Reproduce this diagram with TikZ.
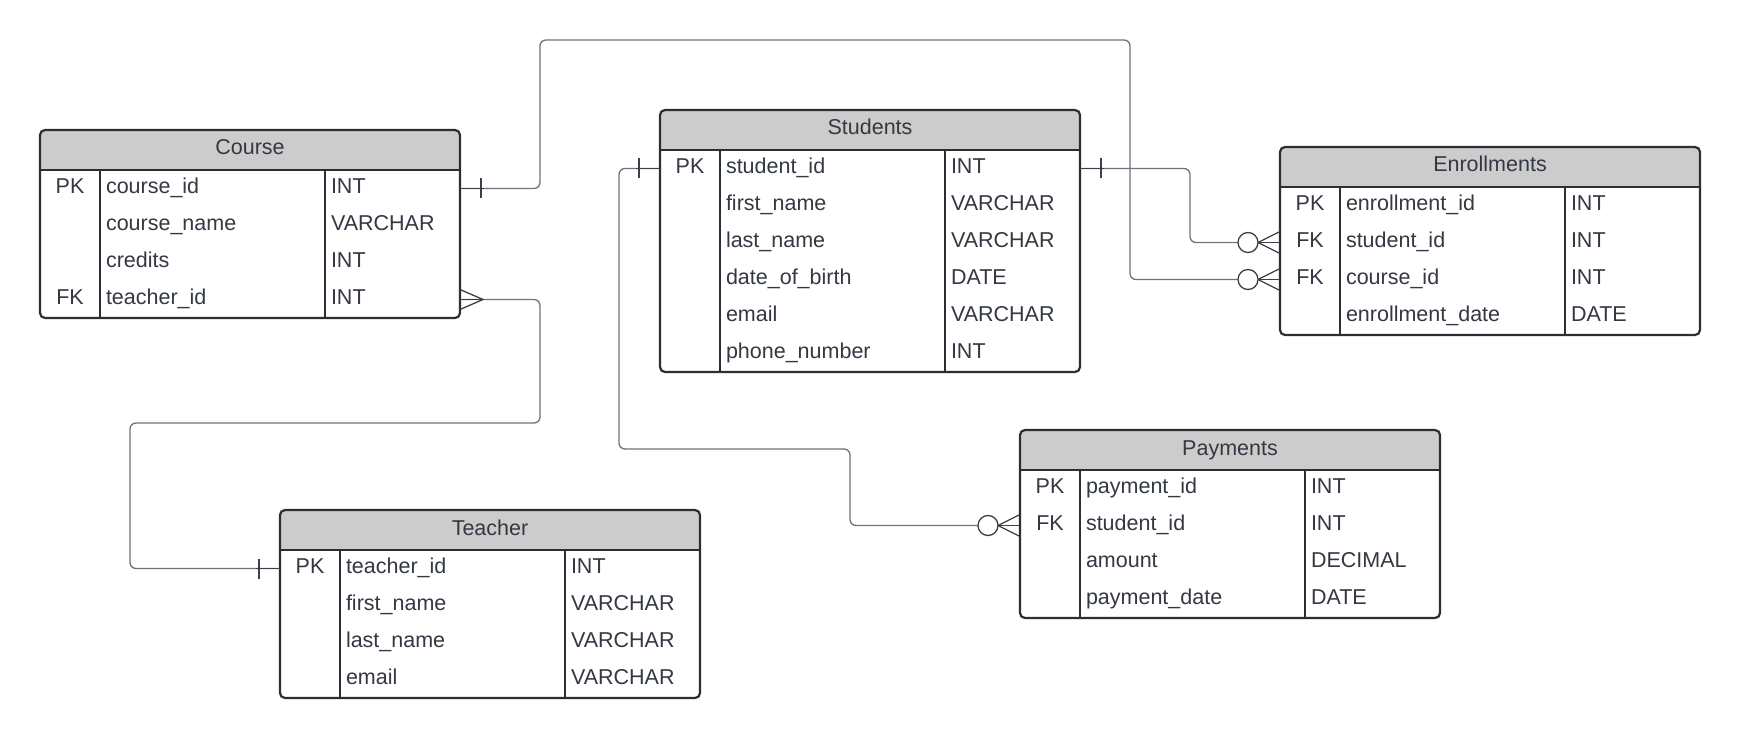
\documentclass[tikz,border=0pt]{standalone}
\usepackage{fontspec}
\setmainfont{Liberation Sans}
\definecolor{txtc}{HTML}{333842}
\definecolor{hdrc}{HTML}{CCCCCC}
\definecolor{bordc}{HTML}{2A2E35}
\definecolor{connc}{HTML}{6E737C}
\definecolor{markc}{HTML}{3A3F48}

% An entity table: name, left x, top y, title, number of rows, rows as key/field/type
\newcommand\erdtable[6]{%
  \node[tblframe, minimum height={40+37*#5}, anchor=north west] (#1) at (#2,#3) {};
  \begin{scope}
    \clip[rounded corners=5pt] (#1.north west) rectangle (#1.south east);
    \fill[hdrc] (#1.north west) rectangle ([yshift=-40pt]#1.north east);
  \end{scope}
  \node[celltext, anchor=base] (#1-title) at ([yshift=-25pt]#1.north) {#4};
  \foreach \cellK/\cellN/\cellT [count=\i] in {#6} {
    \coordinate (#1-w\i) at ([yshift={-40pt-37pt*(\i-0.5)}]#1.north west);
    \coordinate (#1-e\i) at ([yshift={-40pt-37pt*(\i-0.5)}]#1.north east);
    \node[celltext, anchor=base] (#1-k\i) at ([xshift=30pt, yshift=-5pt]#1-w\i) {\cellK};
    \node[celltext, anchor=base west] (#1-n\i) at ([xshift=66pt, yshift=-5pt]#1-w\i) {\cellN};
    \node[celltext, anchor=base west] (#1-t\i) at ([xshift=291pt, yshift=-5pt]#1-w\i) {\cellT};
  }
  \draw[tblline] ([yshift=-40pt]#1.north west) -- ([yshift=-40pt]#1.north east);
  \draw[tblline] ([xshift=60pt, yshift=-40pt]#1.north west) -- ([xshift=60pt]#1.south west);
  \draw[tblline] ([xshift=285pt, yshift=-40pt]#1.north west) -- ([xshift=285pt]#1.south west);
  \draw[tblline, rounded corners=5pt] (#1.north west) rectangle (#1.south east);
}

% Crow's foot end markers; #1 point on the table edge, #2 direction (1 = right, -1 = left)
\newcommand\markone[2]{%
  \draw[mk] (#1) -- ([xshift=#2*24pt]#1);
  \draw[mk] ([xshift=#2*21pt, yshift=10pt]#1) -- ([xshift=#2*21pt, yshift=-10pt]#1);
}
\newcommand\markmany[2]{%
  \draw[mk] ([yshift=10pt]#1) -- ([xshift=#2*23pt]#1) -- ([yshift=-10pt]#1);
  \draw[mk] (#1) -- ([xshift=#2*23pt]#1);
}
\newcommand\markzeromany[2]{%
  \draw[mk] ([yshift=11pt]#1) -- ([xshift=#2*22pt]#1) -- ([yshift=-11pt]#1);
  \draw[mk] (#1) -- ([xshift=#2*22pt]#1);
  \draw[mk, fill=white] ([xshift=#2*32pt]#1) circle (10pt);
}

\begin{document}
\begin{tikzpicture}[x=1pt, y=-1pt,
  every node/.style={inner sep=0pt, outer sep=0pt},
  celltext/.style={text=txtc, font=\fontsize{21.5}{26}\selectfont},
  tblframe/.style={minimum width=420pt, draw=none},
  tblline/.style={draw=bordc, line width=2.2pt},
  conn/.style={draw=connc, line width=1.3pt, rounded corners=6pt},
  mk/.style={draw=markc, line width=1.3pt},
]
\useasboundingbox[fill=white] (0,0) rectangle (1740,738);

% Tables
\erdtable{course}{40}{130}{Course}{4}{PK/course\_id/INT, /course\_name/VARCHAR, /credits/INT, FK/teacher\_id/INT}
\erdtable{students}{660}{110}{Students}{6}{PK/student\_id/INT, /first\_name/VARCHAR, /last\_name/VARCHAR, /date\_of\_birth/DATE, /email/VARCHAR, /phone\_number/INT}
\erdtable{enrollments}{1280}{147}{Enrollments}{4}{PK/enrollment\_id/INT, FK/student\_id/INT, FK/course\_id/INT, /enrollment\_date/DATE}
\erdtable{teacher}{280}{510}{Teacher}{4}{PK/teacher\_id/INT, /first\_name/VARCHAR, /last\_name/VARCHAR, /email/VARCHAR}
\erdtable{payments}{1020}{430}{Payments}{4}{PK/payment\_id/INT, FK/student\_id/INT, /amount/DECIMAL, /payment\_date/DATE}

% Routing points of the relationship lines
\coordinate (w1a) at (540,40);
\coordinate (w1b) at (1130,40);
\coordinate (w2a) at (540,423);
\coordinate (w2b) at (130,423);
\coordinate (w3a) at (1190,200);
\coordinate (w4a) at (619,449);
\coordinate (w4b) at (850,449);

% Relationships
\draw[conn] (course-e1) -| (w1a) -- (w1b) |- ([xshift=-42pt]enrollments-w3);
\draw[conn] (course-e4) -| (w2a) -- (w2b) |- (teacher-w1);
\draw[conn] (students-e1) -| (w3a) |- ([xshift=-42pt]enrollments-w2);
\draw[conn] (students-w1) -| (w4a) -- (w4b) |- ([xshift=-42pt]payments-w2);

% End markers
\markone{course-e1}{1}
\markmany{course-e4}{1}
\markone{teacher-w1}{-1}
\markone{students-e1}{1}
\markone{students-w1}{-1}
\markzeromany{enrollments-w2}{-1}
\markzeromany{enrollments-w3}{-1}
\markzeromany{payments-w2}{-1}
\end{tikzpicture}
\end{document}
